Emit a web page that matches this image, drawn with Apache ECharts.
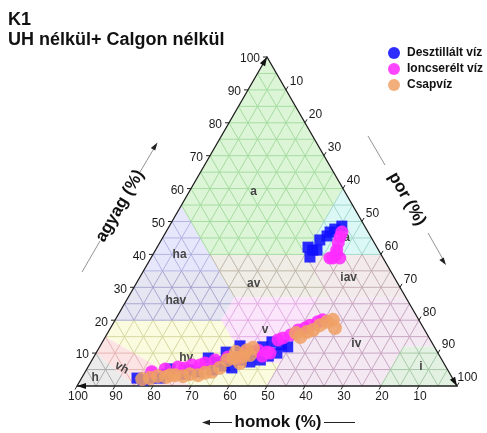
<!DOCTYPE html>
<html>
<head>
<meta charset="utf-8">
<script src="https://cdn.jsdelivr.net/npm/echarts@6/dist/echarts.min.js"></script>
<style>
  html, body { margin: 0; padding: 0; background: #fff; }
  #chart { width: 487px; height: 433px; }
</style>
</head>
<body>
<div id="chart"></div>
<script>
// Ternary soil texture plot: homok (sand), agyag (clay), por (silt) = 100 - homok - agyag

const seriesNames = ['Desztillált víz', 'Ioncserélt víz', 'Csapvíz'];

const desztHomok = [83.0, 81.7, 79.6, 77.0, 72.9, 69.8, 66.1, 61.2, 62.1, 58.1, 55.6, 56.5, 51.0, 52.6, 50.9, 47.4, 47.8, 45.2, 45.1, 42.4, 39.9, 42.0, 38.6, 48.7, 59.3, 67.9, 74.8,
                    6.0, 8.3, 11.4, 13.9, 18.1, 16.2, 19.1, 17.3, 10.0];
const desztAgyag = [2.4, 1.8, 2.4, 2.4, 5.2, 3.6, 4.3, 8.5, 4.9, 6.1, 10.3, 5.5, 12.2, 7.9, 7.3, 10.3, 7.9, 11.9, 9.1, 10.0, 12.5, 13.4, 11.9, 10.3, 7.3, 4.9, 3.6,
                    48.6, 47.7, 45.6, 44.4, 42.2, 41.3, 39.2, 41.3, 46.8];

const ionHomok = [78.2, 74.2, 70.5, 66.5, 62.8, 59.7, 55.9, 50.6, 46.9, 44.8, 44.2, 40.1, 38.5, 36.1, 33.3, 31.2, 29.4, 26.9, 25.3, 46.7, 53.3, 68.9, 64.4,
                  8.1, 9.5, 11.0, 13.2, 11.4, 14.0, 6.9, 11.7];
const ionAgyag = [4.3, 5.2, 5.8, 6.4, 7.0, 7.9, 8.8, 10.3, 10.9, 10.3, 10.0, 14.0, 14.6, 15.5, 17.0, 17.6, 18.5, 19.5, 20.1, 9.1, 8.5, 5.5, 6.4,
                  45.3, 43.5, 41.3, 38.9, 38.9, 38.9, 46.8, 40.1];

const csapHomok = [81.8, 79.6, 77.2, 75.2, 72.5, 70.6, 68.5, 66.5, 64.3, 62.4, 56.5, 54.6, 53.6, 49.8, 47.9, 53.0, 49.8, 51.7,
                   33.8, 31.3, 29.4, 26.8, 24.5, 22.6, 23.3, 34.3, 73.8, 59.7];
const csapAgyag = [2.1, 2.4, 3.0, 2.7, 3.3, 3.0, 3.6, 3.3, 4.0, 4.3, 7.9, 8.5, 7.0, 10.9, 11.6, 10.3, 9.4, 9.1,
                   14.9, 16.4, 17.0, 18.5, 19.5, 20.1, 17.6, 16.1, 3.3, 5.5];

const tickValues = [10, 20, 30, 40, 50, 60, 70, 80, 90, 100];
const gridStep = 5;

// texture classes, vertices as [homok, agyag]
const classNames = ['a', 'ha', 'ia', 'hav', 'av', 'iav', 'hv', 'v', 'iv', 'vh', 'h', 'i'];
const classVerts = {
  a:   [[45, 40], [45, 55], [0, 100], [0, 60], [20, 40]],
  ha:  [[65, 35], [45, 55], [45, 35]],
  ia:  [[20, 40], [0, 60], [0, 40]],
  hav: [[80, 20], [65, 35], [45, 35], [45, 27], [52, 20]],
  av:  [[45, 27], [45, 35], [45, 40], [20, 40], [20, 27]],
  iav: [[20, 27], [20, 40], [0, 40], [0, 27]],
  hv:  [[70, 0], [85, 15], [80, 20], [52, 20], [52, 7], [43, 7], [50, 0]],
  v:   [[52, 7], [52, 20], [45, 27], [23, 27], [43, 7]],
  iv:  [[50, 0], [43, 7], [23, 27], [0, 27], [0, 12], [8, 12], [20, 0]],
  vh:  [[85, 0], [90, 10], [85, 15], [70, 0]],
  h:   [[100, 0], [90, 10], [85, 0]],
  i:   [[20, 0], [8, 12], [0, 12], [0, 0]]
};
const classLabelAt = {
  a: [24, 59], ha: [53, 40], ia: [7, 45], hav: [61, 26], av: [38, 31], iav: [12, 33],
  hv: [67, 8.5], v: [42, 17], iv: [20, 13], vh: [85.5, 5.5], h: [94, 2.4], i: [6.5, 6]
};

const classFill = {
  a: '#dcf5d6', ha: '#e7e7fb', ia: '#dcf8f6', hav: '#e6e6f3', av: '#efede6', iav: '#f3ebeb',
  hv: '#fbfbe0', v: '#fbe5fb', iv: '#f4e9f2', vh: '#fce4e4', h: '#ebebeb', i: '#e3f1e3'
};
const classLine = {
  a: '#a6dca2', ha: '#b4b4e4', ia: '#a4d8cc', hav: '#a8a8d0', av: '#c0b8aa', iav: '#c6aeb6',
  hv: '#d8d8a2', v: '#e2aee2', iv: '#c8a6c2', vh: '#e6b4b4', h: '#aeaeae', i: '#a8caa8'
};

const SQ = Math.sqrt(3) / 2;
function toXY(homok, agyag) { return [100 - homok - agyag / 2, agyag * SQ]; }

function inPoly(pt, poly) {
  let inside = false;
  for (let i = 0, j = poly.length - 1; i < poly.length; j = i++) {
    const xi = poly[i][0], yi = poly[i][1], xj = poly[j][0], yj = poly[j][1];
    if ((yi > pt[1]) !== (yj > pt[1]) &&
        pt[0] < (xj - xi) * (pt[1] - yi) / (yj - yi) + xi) inside = !inside;
  }
  return inside;
}

const classPolysXY = {};
classNames.forEach(n => { classPolysXY[n] = classVerts[n].map(v => toXY(v[0], v[1])); });

function classAt(pt) {
  for (const n of classNames) if (inPoly(pt, classPolysXY[n])) return n;
  for (const n of classNames) if (inPoly([pt[0] + 0.01, pt[1] + 0.01], classPolysXY[n])) return n;
  return null;
}

// split one grid line into pieces coloured by the class they cross
function splitLine(A, B) {
  const ts = [0, 1];
  const dx = B[0] - A[0], dy = B[1] - A[1];
  classNames.forEach(n => {
    const poly = classPolysXY[n];
    for (let i = 0; i < poly.length; i++) {
      const C = poly[i], D = poly[(i + 1) % poly.length];
      const ex = D[0] - C[0], ey = D[1] - C[1];
      const den = dx * ey - dy * ex;
      if (Math.abs(den) < 1e-9) continue;
      const cx = C[0] - A[0], cy = C[1] - A[1];
      const t = (cx * ey - cy * ex) / den;
      const u = (cx * dy - cy * dx) / den;
      if (t > 0 && t < 1 && u >= -1e-9 && u <= 1 + 1e-9) ts.push(t);
    }
  });
  ts.sort((p, q) => p - q);
  const pieces = [];
  for (let i = 0; i < ts.length - 1; i++) {
    const t0 = ts[i], t1 = ts[i + 1];
    if (t1 - t0 < 1e-7) continue;
    const tm = (t0 + t1) / 2;
    const cls = classAt([A[0] + dx * tm, A[1] + dy * tm]);
    const last = pieces[pieces.length - 1];
    if (last && last.cls === cls && Math.abs(last.t1 - t0) < 1e-7) last.t1 = t1;
    else pieces.push({ cls, t0, t1 });
  }
  return pieces.map(p => ({
    cls: p.cls,
    p0: [A[0] + dx * p.t0, A[1] + dy * p.t0],
    p1: [A[0] + dx * p.t1, A[1] + dy * p.t1]
  }));
}

const gridPieces = [];
for (let k = gridStep; k < 100; k += gridStep) {
  gridPieces.push(...splitLine(toXY(100 - k, k), toXY(0, k)));       // agyag = k
  gridPieces.push(...splitLine(toXY(k, 0), toXY(k, 100 - k)));       // homok = k
  gridPieces.push(...splitLine(toXY(100 - k, 0), toXY(0, 100 - k))); // por = k
}

const FONT = '"Liberation Sans", Arial, Helvetica, sans-serif';

function arrowHead(tip, dir, len, half, color) {
  const bx = tip[0] - dir[0] * len, by = tip[1] - dir[1] * len;
  const nx = -dir[1], ny = dir[0];
  return {
    type: 'polygon',
    shape: { points: [tip, [bx + nx * half, by + ny * half], [bx - nx * half, by - ny * half]] },
    style: { fill: color }
  };
}

function textEl(x, y, text, font, fill, align, vAlign, rotation) {
  return {
    type: 'text', x: x, y: y, rotation: rotation || 0,
    style: {
      text: text, font: font, fill: fill,
      align: align, verticalAlign: vAlign,
      textAlign: align, textVerticalAlign: vAlign
    }
  };
}

function renderBase(params, api) {
  if (params.dataIndex !== 0) return;
  const P = (h, c) => api.coord(toXY(h, c));
  const children = [];

  classNames.forEach(n => {
    children.push({
      type: 'polygon',
      shape: { points: classPolysXY[n].map(p => api.coord(p)) },
      style: { fill: classFill[n] }
    });
  });

  gridPieces.forEach(g => {
    const a = api.coord(g.p0), b = api.coord(g.p1);
    children.push({
      type: 'line',
      shape: { x1: a[0], y1: a[1], x2: b[0], y2: b[1] },
      style: { stroke: g.cls ? classLine[g.cls] : '#bbbbbb', lineWidth: 1 }
    });
  });

  classNames.forEach(n => {
    const p = P(classLabelAt[n][0], classLabelAt[n][1]);
    children.push(textEl(p[0], p[1], n, 'bold 12px ' + FONT, '#454545', 'center', 'middle',
      n === 'vh' ? -Math.PI / 6 : 0));
  });

  // triangle frame
  const BL = P(100, 0), BR = P(0, 0), TOP = P(0, 100);
  children.push({
    type: 'polygon',
    shape: { points: [BL, BR, TOP] },
    style: { fill: null, stroke: '#1e1e1e', lineWidth: 1.3 }
  });
  children.push(arrowHead(TOP, [0.5, -SQ], 9, 3, '#111'));
  children.push(arrowHead(BR, [0.5, SQ], 9, 3, '#111'));
  children.push(arrowHead(BL, [-1, 0], 9, 3, '#111'));

  const tickFont = '12px ' + FONT;
  tickValues.forEach(v => {
    // agyag (left edge)
    let p = P(100 - v, v);
    children.push({ type: 'line', shape: { x1: p[0], y1: p[1], x2: p[0] - 4, y2: p[1] }, style: { stroke: '#222', lineWidth: 1 } });
    children.push(textEl(p[0] - 7, p[1] + 2, String(v), tickFont, '#1a1a1a', 'right', 'middle'));
    // por (right edge)
    p = P(0, 100 - v);
    children.push({ type: 'line', shape: { x1: p[0], y1: p[1], x2: p[0] + 2, y2: p[1] - 3.5 }, style: { stroke: '#222', lineWidth: 1 } });
    children.push(textEl(p[0] + 10.5, p[1] - 8, String(v), tickFont, '#1a1a1a', 'center', 'middle'));
    // homok (bottom edge)
    p = P(v, 0);
    children.push({ type: 'line', shape: { x1: p[0], y1: p[1], x2: p[0] - 2, y2: p[1] + 3.5 }, style: { stroke: '#222', lineWidth: 1 } });
    children.push(textEl(p[0] + 1, p[1] + 11, String(v), tickFont, '#1a1a1a', 'center', 'middle'));
  });

  return { type: 'group', children: children };
}

function pts(homok, agyag) { return homok.map((h, i) => toXY(h, agyag[i])); }

const chart = echarts.init(document.getElementById('chart'), null, { renderer: 'canvas' });

const titleFont = 'bold 17px ' + FONT;
chart.setOption({
  animation: false,
  backgroundColor: '#ffffff',
  grid: { left: 77, right: 30, top: 57, bottom: 47 },
  xAxis: { type: 'value', min: 0, max: 100, show: false },
  yAxis: { type: 'value', min: 0, max: 100 * SQ, show: false },
  legend: {
    orient: 'vertical', left: 383, top: 42,
    icon: 'circle', itemWidth: 12, itemHeight: 12, itemGap: 4,
    textStyle: { fontFamily: FONT, fontWeight: 'bold', fontSize: 12, color: '#111', padding: [0, 0, 0, 2] },
    data: seriesNames
  },
  graphic: [
    { type: 'text', left: 8, top: 11, style: { text: 'K1', font: 'bold 18px ' + FONT, fill: '#111' } },
    { type: 'text', left: 8, top: 31, style: { text: 'UH nélkül+ Calgon nélkül', font: 'bold 18px ' + FONT, fill: '#111' } },

    // agyag (%) title with arrow
    { type: 'line', shape: { x1: 82, y1: 272, x2: 100, y2: 241 }, style: { stroke: '#777', lineWidth: 0.8 } },
    { type: 'line', shape: { x1: 140, y1: 172, x2: 156, y2: 145 }, style: { stroke: '#777', lineWidth: 0.8 } },
    { type: 'polygon', shape: { points: [[157.5, 142.5], [155.2, 150.5], [150.8, 148]] }, style: { fill: '#222' } },
    { type: 'text', x: 120, y: 206, rotation: Math.PI / 3,
      style: { text: 'agyag (%)', font: titleFont, fill: '#111', align: 'center', verticalAlign: 'middle', textAlign: 'center', textVerticalAlign: 'middle' } },

    // por (%) title with arrow
    { type: 'line', shape: { x1: 368, y1: 136, x2: 385, y2: 165 }, style: { stroke: '#777', lineWidth: 0.8 } },
    { type: 'line', shape: { x1: 428, y1: 233, x2: 444, y2: 261 }, style: { stroke: '#777', lineWidth: 0.8 } },
    { type: 'polygon', shape: { points: [[446, 265], [439.3, 260.1], [443.7, 257.6]] }, style: { fill: '#222' } },
    { type: 'text', x: 407, y: 199, rotation: -Math.PI / 3,
      style: { text: 'por (%)', font: titleFont, fill: '#111', align: 'center', verticalAlign: 'middle', textAlign: 'center', textVerticalAlign: 'middle' } },

    // homok (%) title with arrow
    { type: 'line', shape: { x1: 208, y1: 422.5, x2: 232, y2: 422.5 }, style: { stroke: '#222', lineWidth: 1 } },
    { type: 'polygon', shape: { points: [[202, 422.5], [210, 419.8], [210, 425.2]] }, style: { fill: '#222' } },
    { type: 'line', shape: { x1: 324, y1: 422.5, x2: 355, y2: 422.5 }, style: { stroke: '#222', lineWidth: 1 } },
    { type: 'text', x: 278, y: 422, style: { text: 'homok (%)', font: titleFont, fill: '#111', align: 'center', verticalAlign: 'middle', textAlign: 'center', textVerticalAlign: 'middle' } }
  ],
  series: [
    {
      type: 'custom', name: 'base', renderItem: renderBase,
      data: [[0, 0]], silent: true, clip: false, z: 1
    },
    {
      type: 'scatter', name: seriesNames[0], symbol: 'rect', symbolSize: 11, z: 3,
      itemStyle: { color: '#1010ff', opacity: 0.88 },
      data: pts(desztHomok, desztAgyag)
    },
    {
      type: 'scatter', name: seriesNames[1], symbol: 'circle', symbolSize: 13, z: 4,
      itemStyle: { color: '#ff2cff', opacity: 0.88 },
      data: pts(ionHomok, ionAgyag)
    },
    {
      type: 'scatter', name: seriesNames[2], symbol: 'circle', symbolSize: 14, z: 5,
      itemStyle: { color: '#f0a064', opacity: 0.85 },
      data: pts(csapHomok, csapAgyag)
    }
  ]
});
</script>
</body>
</html>
